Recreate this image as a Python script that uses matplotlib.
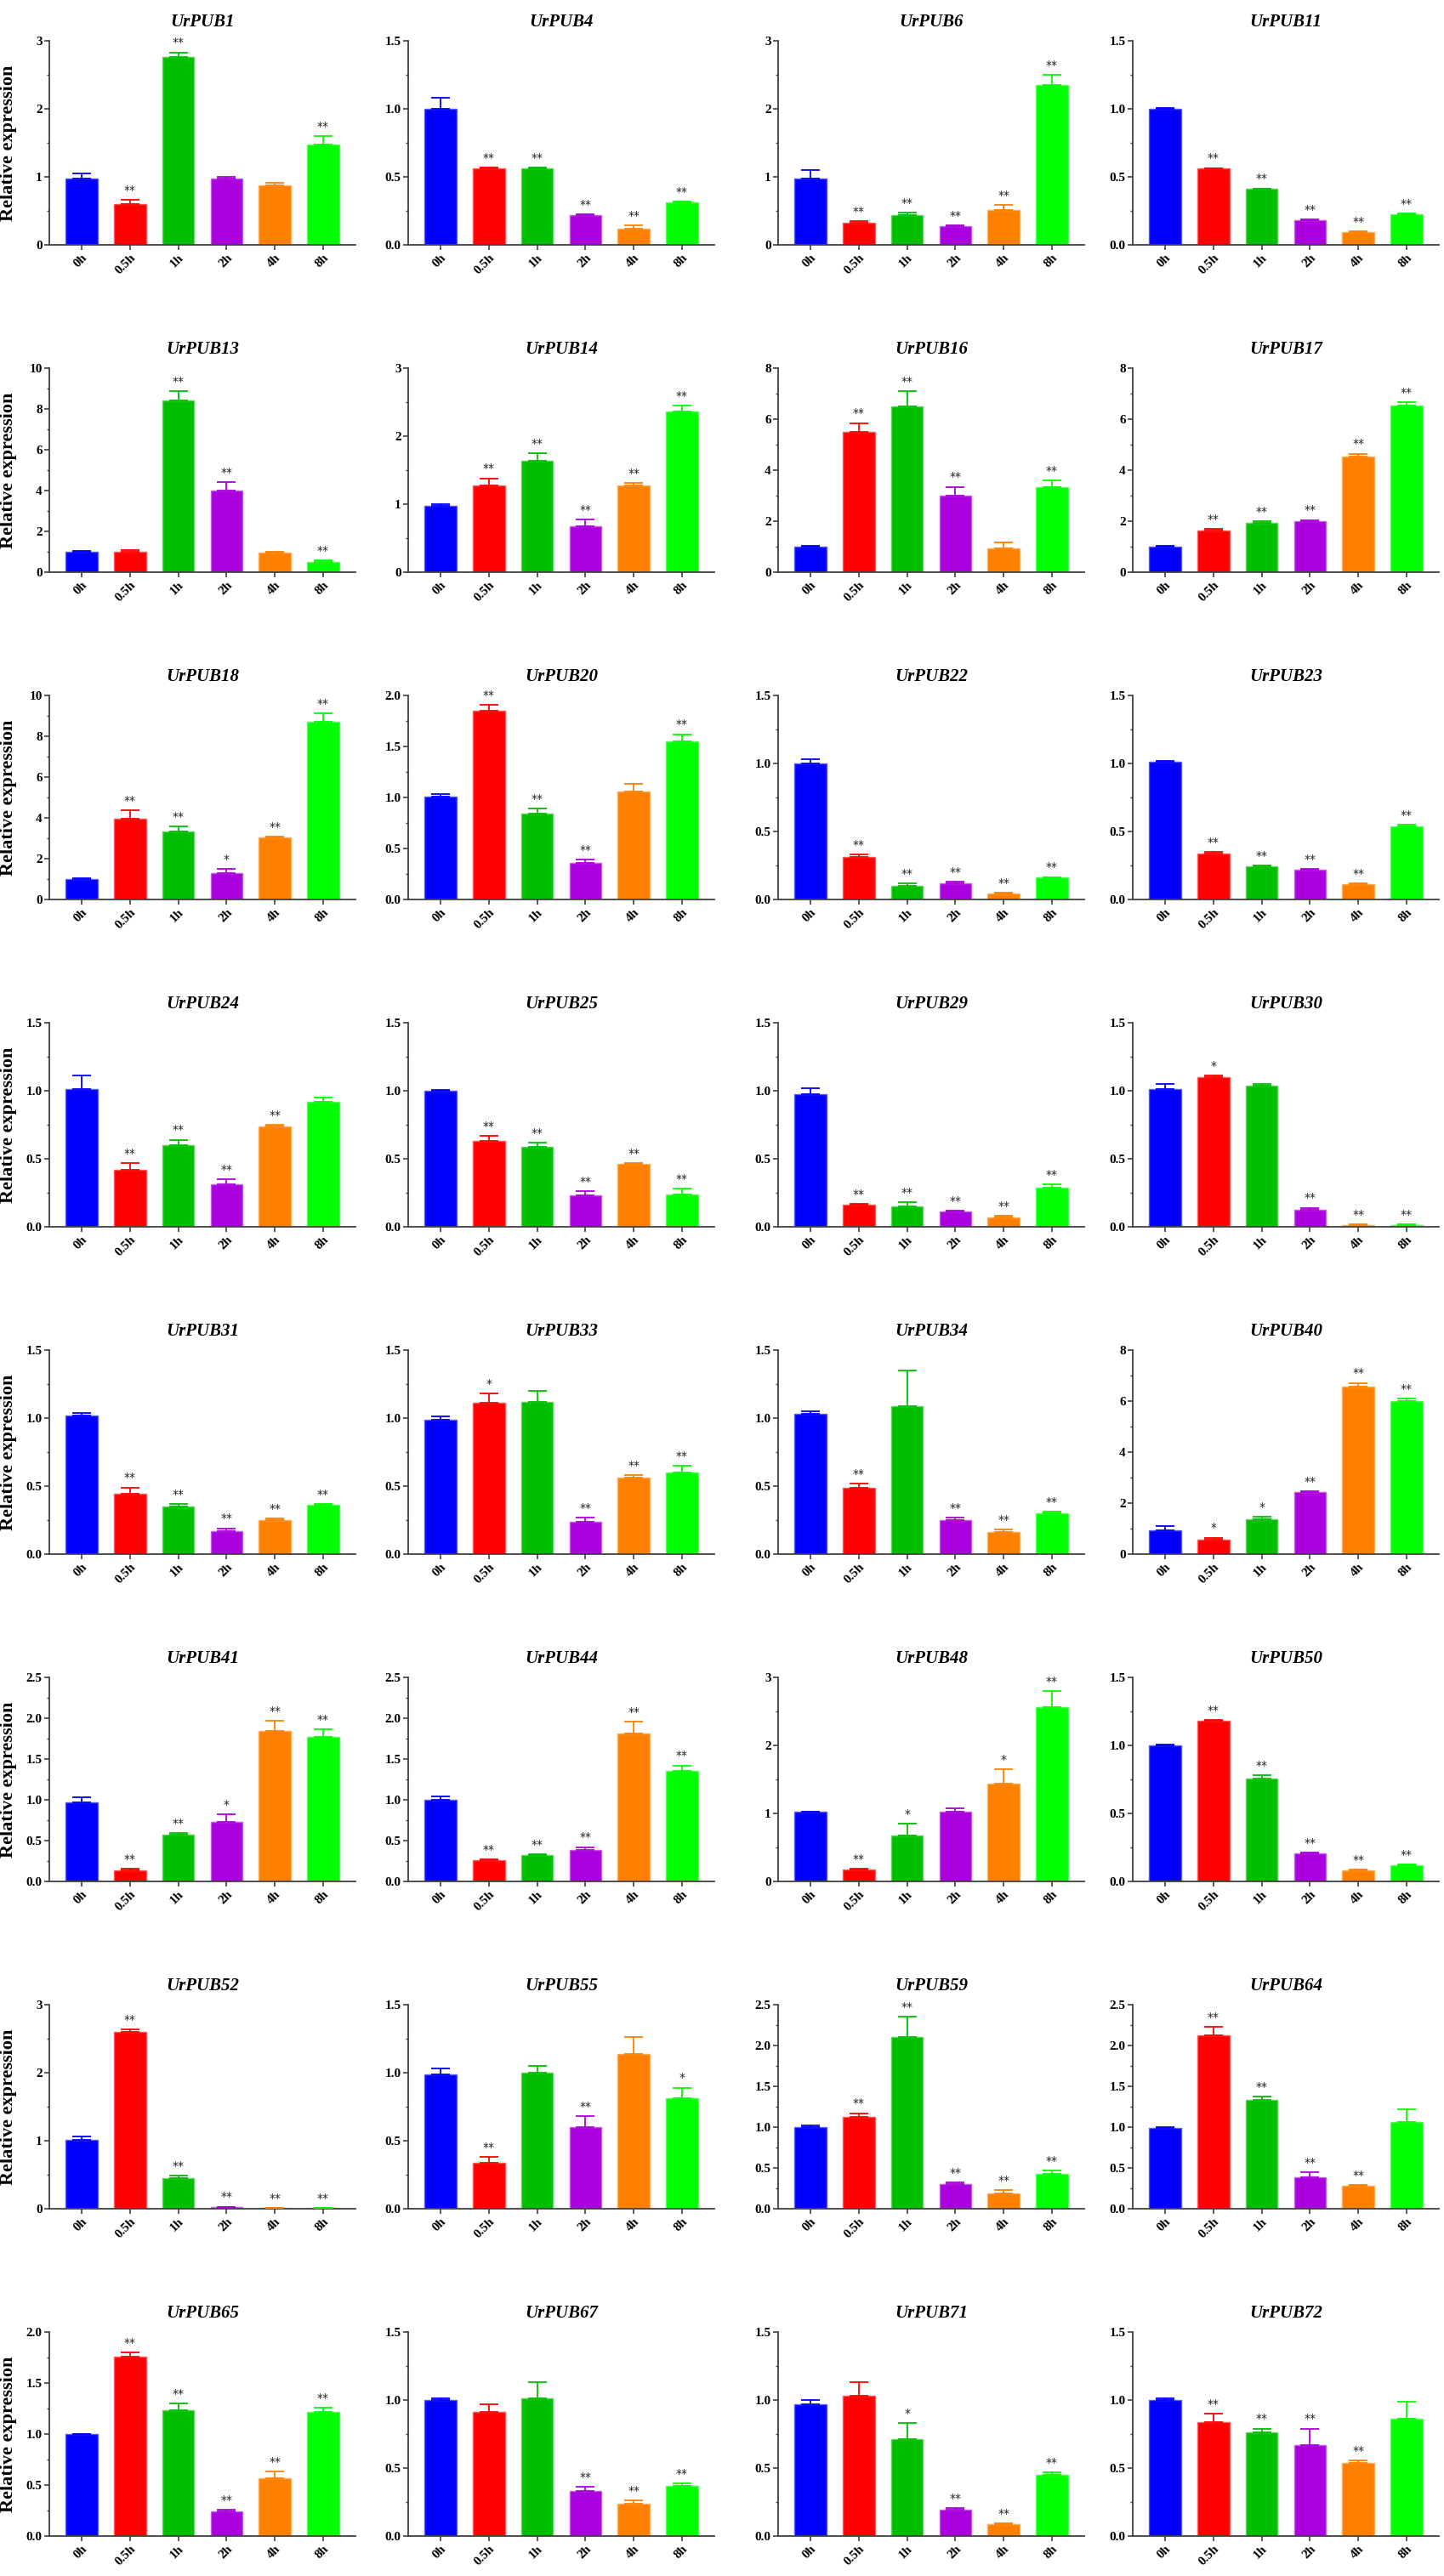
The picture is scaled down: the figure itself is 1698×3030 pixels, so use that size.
import numpy as np
import matplotlib
matplotlib.use('Agg')
import matplotlib.pyplot as plt
from matplotlib.ticker import MultipleLocator, AutoMinorLocator, FormatStrFormatter
from matplotlib.colors import to_rgb

#---------------------Data----------------------------------------------------
times = ['0h', '0.5h', '1h', '2h', '4h', '8h']
colors = ['#0000FF', '#FF0000', '#00BE00', '#AA00DD', '#FF8000', '#00FF00']

genes = ['UrPUB1', 'UrPUB4', 'UrPUB6', 'UrPUB11',
         'UrPUB13', 'UrPUB14', 'UrPUB16', 'UrPUB17',
         'UrPUB18', 'UrPUB20', 'UrPUB22', 'UrPUB23',
         'UrPUB24', 'UrPUB25', 'UrPUB29', 'UrPUB30',
         'UrPUB31', 'UrPUB33', 'UrPUB34', 'UrPUB40',
         'UrPUB41', 'UrPUB44', 'UrPUB48', 'UrPUB50',
         'UrPUB52', 'UrPUB55', 'UrPUB59', 'UrPUB64',
         'UrPUB65', 'UrPUB67', 'UrPUB71', 'UrPUB72']

ymax = [3, 1.5, 3, 1.5,
        10, 3, 8, 8,
        10, 2.0, 1.5, 1.5,
        1.5, 1.5, 1.5, 1.5,
        1.5, 1.5, 1.5, 8,
        2.5, 2.5, 3, 1.5,
        3, 1.5, 2.5, 2.5,
        2.0, 1.5, 1.5, 1.5]

ystep = [1, 0.5, 1, 0.5,
         2, 1, 2, 2,
         2, 0.5, 0.5, 0.5,
         0.5, 0.5, 0.5, 0.5,
         0.5, 0.5, 0.5, 2,
         0.5, 0.5, 1, 0.5,
         1, 0.5, 0.5, 0.5,
         0.5, 0.5, 0.5, 0.5]

means = [
    [0.97, 0.60, 2.76, 0.97, 0.87, 1.48],
    [1.00, 0.56, 0.56, 0.22, 0.12, 0.31],
    [0.97, 0.33, 0.44, 0.28, 0.51, 2.35],
    [1.00, 0.56, 0.41, 0.18, 0.095, 0.225],
    [1.00, 0.98, 8.41, 4.00, 0.97, 0.50],
    [0.98, 1.28, 1.64, 0.67, 1.27, 2.36],
    [1.00, 5.50, 6.50, 3.00, 0.93, 3.35],
    [1.00, 1.65, 1.95, 2.00, 4.55, 6.55],
    [1.00, 3.96, 3.33, 1.31, 3.05, 8.71],
    [1.01, 1.85, 0.84, 0.36, 1.06, 1.55],
    [1.00, 0.31, 0.10, 0.12, 0.044, 0.16],
    [1.01, 0.34, 0.245, 0.22, 0.11, 0.54],
    [1.01, 0.42, 0.60, 0.31, 0.74, 0.92],
    [1.00, 0.63, 0.59, 0.23, 0.46, 0.24],
    [0.975, 0.16, 0.15, 0.11, 0.07, 0.29],
    [1.01, 1.10, 1.04, 0.126, 0.015, 0.015],
    [1.02, 0.445, 0.35, 0.17, 0.25, 0.36],
    [0.99, 1.11, 1.12, 0.24, 0.56, 0.60],
    [1.03, 0.49, 1.09, 0.25, 0.16, 0.30],
    [0.94, 0.58, 1.36, 2.42, 6.56, 6.00],
    [0.97, 0.14, 0.57, 0.73, 1.84, 1.77],
    [1.00, 0.26, 0.32, 0.39, 1.81, 1.35],
    [1.02, 0.18, 0.68, 1.03, 1.44, 2.56],
    [1.00, 1.18, 0.755, 0.205, 0.084, 0.12],
    [1.01, 2.60, 0.45, 0.025, 0.01, 0.01],
    [0.99, 0.34, 1.00, 0.60, 1.14, 0.81],
    [1.00, 1.12, 2.10, 0.30, 0.19, 0.43],
    [0.99, 2.12, 1.33, 0.39, 0.28, 1.06],
    [1.00, 1.76, 1.23, 0.24, 0.565, 1.22],
    [1.00, 0.915, 1.01, 0.33, 0.24, 0.37],
    [0.97, 1.03, 0.71, 0.195, 0.09, 0.447],
    [1.00, 0.84, 0.76, 0.67, 0.54, 0.86]]

errs = [
    [0.08, 0.06, 0.07, 0.03, 0.04, 0.12],
    [0.08, 0.01, 0.01, 0.005, 0.025, 0.01],
    [0.13, 0.02, 0.03, 0.01, 0.08, 0.15],
    [0.005, 0.005, 0.005, 0.005, 0.005, 0.005],
    [0.05, 0.10, 0.45, 0.42, 0.05, 0.07],
    [0.02, 0.10, 0.11, 0.10, 0.04, 0.09],
    [0.05, 0.35, 0.60, 0.35, 0.25, 0.25],
    [0.03, 0.05, 0.05, 0.05, 0.10, 0.12],
    [0.06, 0.42, 0.24, 0.17, 0.04, 0.41],
    [0.02, 0.06, 0.05, 0.03, 0.07, 0.07],
    [0.03, 0.02, 0.02, 0.01, 0.004, 0.005],
    [0.01, 0.01, 0.005, 0.005, 0.01, 0.01],
    [0.10, 0.05, 0.04, 0.04, 0.01, 0.03],
    [0.005, 0.04, 0.03, 0.03, 0.01, 0.04],
    [0.045, 0.01, 0.03, 0.01, 0.01, 0.02],
    [0.04, 0.01, 0.01, 0.014, 0.005, 0.005],
    [0.02, 0.045, 0.02, 0.02, 0.01, 0.01],
    [0.02, 0.07, 0.08, 0.03, 0.02, 0.05],
    [0.02, 0.03, 0.26, 0.02, 0.02, 0.01],
    [0.17, 0.07, 0.11, 0.04, 0.15, 0.09],
    [0.06, 0.015, 0.02, 0.09, 0.13, 0.09],
    [0.04, 0.01, 0.01, 0.03, 0.15, 0.07],
    [0.01, 0.01, 0.17, 0.05, 0.21, 0.24],
    [0.005, 0.005, 0.025, 0.005, 0.004, 0.006],
    [0.05, 0.04, 0.04, 0.005, 0.0, 0.0],
    [0.04, 0.04, 0.05, 0.08, 0.12, 0.08],
    [0.02, 0.05, 0.25, 0.02, 0.04, 0.04],
    [0.01, 0.11, 0.04, 0.06, 0.01, 0.16],
    [0.004, 0.04, 0.07, 0.02, 0.065, 0.04],
    [0.01, 0.055, 0.12, 0.03, 0.02, 0.015],
    [0.03, 0.10, 0.12, 0.01, 0.004, 0.023],
    [0.01, 0.06, 0.03, 0.12, 0.016, 0.13]]

sigs = [
    ['', '**', '**', '', '', '**'],
    ['', '**', '**', '**', '**', '**'],
    ['', '**', '**', '**', '**', '**'],
    ['', '**', '**', '**', '**', '**'],
    ['', '', '**', '**', '', '**'],
    ['', '**', '**', '**', '**', '**'],
    ['', '**', '**', '**', '', '**'],
    ['', '**', '**', '**', '**', '**'],
    ['', '**', '**', '*', '**', '**'],
    ['', '**', '**', '**', '', '**'],
    ['', '**', '**', '**', '**', '**'],
    ['', '**', '**', '**', '**', '**'],
    ['', '**', '**', '**', '**', ''],
    ['', '**', '**', '**', '**', '**'],
    ['', '**', '**', '**', '**', '**'],
    ['', '*', '', '**', '**', '**'],
    ['', '**', '**', '**', '**', '**'],
    ['', '*', '', '**', '**', '**'],
    ['', '**', '', '**', '**', '**'],
    ['', '*', '*', '**', '**', '**'],
    ['', '**', '**', '*', '**', '**'],
    ['', '**', '**', '**', '**', '**'],
    ['', '**', '*', '', '*', '**'],
    ['', '**', '**', '**', '**', '**'],
    ['', '**', '**', '**', '**', '**'],
    ['', '**', '', '**', '', '*'],
    ['', '**', '**', '**', '**', '**'],
    ['', '**', '**', '**', '**', ''],
    ['', '**', '**', '**', '**', '**'],
    ['', '', '', '**', '**', '**'],
    ['', '', '*', '**', '**', '**'],
    ['', '**', '**', '**', '**', '']]

#---------------------Layout (pixels)-----------------------------------------
W, H = 1699, 3030
col_left = [58, 480, 915, 1332]
ax_w = 360
ax_h = 240
row_top0 = 48
row_pitch = 385

serif = 'Liberation Serif'
axcol = '#404040'

def lighter(c, f=0.35):
    r, g, b = to_rgb(c)
    return (r + (1-r)*f, g + (1-g)*f, b + (1-b)*f)

fig = plt.figure(figsize=(W/100, H/100), dpi=100, facecolor='w')

x = np.arange(len(times))
for k, gene in enumerate(genes):
    r, c = divmod(k, 4)
    top = row_top0 + row_pitch*r
    ax = fig.add_axes([col_left[c]/W, 1 - (top + ax_h)/H, ax_w/W, ax_h/H])

    m = np.array(means[k])
    e = np.array(errs[k])
    ax.bar(x, m, width=0.66, color=colors,
           edgecolor=[lighter(cc) for cc in colors], linewidth=1.0, zorder=2)
    for i in range(len(times)):
        ax.errorbar(x[i], m[i], yerr=[[0], [e[i]]], fmt='none',
                    ecolor=colors[i], elinewidth=1.3, capsize=8,
                    capthick=1.3, zorder=3)
        if sigs[k][i]:
            ax.text(x[i], m[i] + e[i] + 0.03*ymax[k], sigs[k][i],
                    ha='center', va='baseline', fontsize=10,
                    family='DejaVu Sans', color='#222222')

    ax.set_xlim(-0.67, 5.67)
    ax.set_ylim(0, ymax[k])
    ax.yaxis.set_major_locator(MultipleLocator(ystep[k]))
    ax.yaxis.set_minor_locator(AutoMinorLocator(2))
    if ystep[k] < 1:
        ax.yaxis.set_major_formatter(FormatStrFormatter('%.1f'))
    else:
        ax.yaxis.set_major_formatter(FormatStrFormatter('%d'))

    ax.set_xticks(x)
    ax.set_xticklabels(times, rotation=45, ha='right', rotation_mode='anchor')

    for side in ['top', 'right']:
        ax.spines[side].set_visible(False)
    for side in ['left', 'bottom']:
        ax.spines[side].set_color(axcol)
        ax.spines[side].set_linewidth(1.3)
    ax.tick_params(axis='both', which='major', direction='out', length=4,
                   width=1.2, color=axcol, pad=2)
    ax.tick_params(axis='y', which='minor', direction='out', length=2.5,
                   width=1.0, color=axcol)
    for lab in ax.get_yticklabels():
        lab.set_fontfamily(serif)
        lab.set_fontweight('bold')
        lab.set_fontsize(11)
    for lab in ax.get_xticklabels():
        lab.set_fontfamily(serif)
        lab.set_fontweight('bold')
        lab.set_fontsize(11)

    ax.set_title(gene, fontsize=15, family=serif, fontweight='bold',
                 style='italic', pad=12)
    if c == 0:
        ax.set_ylabel('Relative expression', fontsize=16, family=serif,
                      fontweight='bold')
        ax.yaxis.set_label_coords(-(col_left[0] - 20)/ax_w, 0.5)

fig.savefig('out.png', dpi=100, facecolor='w')
